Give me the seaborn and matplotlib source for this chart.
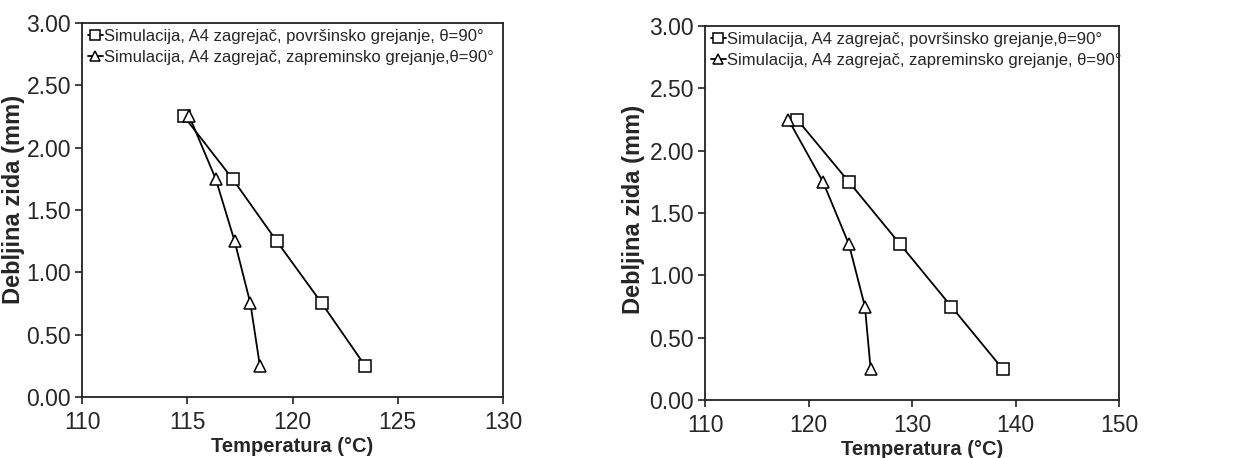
import matplotlib
matplotlib.use("Agg")
import matplotlib.pyplot as plt
import seaborn as sns
import pandas as pd

sns.set_theme(style="white")
plt.rcParams["font.family"] = ["Liberation Sans", "DejaVu Sans"]

# Wall depth positions (mm)
depth = [2.25, 1.75, 1.25, 0.75, 0.25]

# Panel 1 temperatures (°C)
left_surface = [114.85, 117.15, 119.25, 121.4, 123.45]
left_volume = [115.1, 116.35, 117.25, 118.0, 118.45]

# Panel 2 temperatures (°C)
right_surface = [118.9, 123.9, 128.85, 133.8, 138.75]
right_volume = [118.05, 121.4, 123.9, 125.45, 126.0]

left_labels = ["Simulacija, A4 zagrejač, površinsko grejanje, θ=90°",
               "Simulacija, A4 zagrejač, zapreminsko grejanje,θ=90°"]
right_labels = ["Simulacija, A4 zagrejač, površinsko grejanje,θ=90°",
                "Simulacija, A4 zagrejač, zapreminsko grejanje, θ=90°"]

x_ticks_left = [110, 115, 120, 125, 130]
x_ticks_right = [110, 120, 130, 140, 150]
y_ticks = [0.0, 0.5, 1.0, 1.5, 2.0, 2.5, 3.0]

fig = plt.figure(figsize=(12.41, 4.58), dpi=100)
ax1 = fig.add_axes([0.0661, 0.1332, 0.3392, 0.8166])
ax2 = fig.add_axes([0.5681, 0.1266, 0.3336, 0.8166])


def draw_panel(ax, surface, volume, xticks, labels, xlab_pos, ylab_pos):
    df_s = pd.DataFrame({"T": surface, "d": depth})
    df_v = pd.DataFrame({"T": volume, "d": depth})
    common = dict(color="black", linewidth=1.3, markersize=8.5,
                  markerfacecolor="white", markeredgecolor="black",
                  markeredgewidth=1.1, sort=False, estimator=None, ax=ax)
    sns.lineplot(data=df_s, x="T", y="d", marker="s", label=labels[0], **common)
    sns.lineplot(data=df_v, x="T", y="d", marker="^", label=labels[1], **common)
    ax.set_xlim(xticks[0], xticks[-1])
    ax.set_ylim(0, 3.0)
    ax.set_xticks(xticks)
    ax.set_yticks(y_ticks)
    ax.set_yticklabels([f"{v:.2f}" for v in y_ticks])
    ax.tick_params(axis="both", which="major", labelsize=16.5, direction="out",
                   length=5, width=1.2, color="#222222",
                   bottom=True, left=True, top=False, right=False)
    ax.tick_params(axis="x", pad=5)
    ax.tick_params(axis="y", pad=3)
    for sp in ax.spines.values():
        sp.set_color("#222222")
        sp.set_linewidth(1.3)
        sp.set_visible(True)
    ax.set_xlabel("Temperatura (°C)", fontsize=14.5, fontweight="bold")
    ax.set_ylabel("Debljina zida (mm)", fontsize=17, fontweight="bold")
    ax.xaxis.set_label_coords(*xlab_pos)
    ax.yaxis.set_label_coords(*ylab_pos)
    leg = ax.legend(loc="upper left", frameon=False, fontsize=12, handlelength=0.9,
                    handletextpad=0.05, borderaxespad=0.1, borderpad=0.25,
                    labelspacing=0.35)
    for h in leg.legend_handles:
        h.set_markersize(7.5)


draw_panel(ax1, left_surface, left_volume, x_ticks_left, left_labels,
           (0.5, -0.108), (-0.135, 0.527))
draw_panel(ax2, right_surface, right_volume, x_ticks_right, right_labels,
           (0.524, -0.108), (-0.145, 0.51))

fig.savefig("out.png", dpi=100, facecolor="white")
